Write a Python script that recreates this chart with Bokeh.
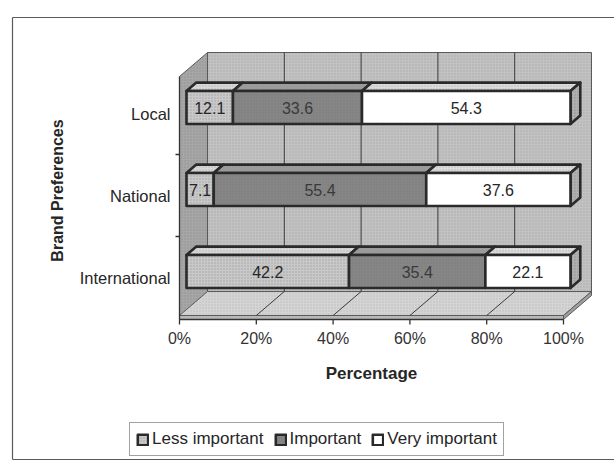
import numpy as np
from bokeh.plotting import figure
from bokeh.models import Range1d, Legend, LegendItem
from bokeh.embed import file_html
from bokeh.resources import INLINE
from bokeh.core.properties import value

# ---- data -------------------------------------------------------------
categories = ["Local", "National", "International"]
series_names = ["Less important", "Important", "Very important"]
less_important = [12.1, 7.1, 42.2]
important = [33.6, 55.4, 35.4]
very_important = [54.3, 37.6, 22.1]
x_ticks = [0, 20, 40, 60, 80, 100]
x_tick_labels = ["0%", "20%", "40%", "60%", "80%", "100%"]

# ---- canvas / projection settings --------------------------------------
W, H = 614, 461
PX_PER_PCT = 3.84                     # horizontal scale
PX_PER_ROW = 82                       # vertical scale
ORIGIN_X, ORIGIN_Y = 179, 277         # screen position of (0 %, row 0)


def dx_px(px):      # screen x -> data x
    return (px - ORIGIN_X) / PX_PER_PCT


def dy_px(py):      # screen y -> data y
    return (ORIGIN_Y - py) / PX_PER_ROW


DX = 28 / PX_PER_PCT                  # depth offset of the 3-D box (x)
DY = 24 / PX_PER_ROW                  # depth offset of the 3-D box (y)
Z0, Z1 = 0.25, 0.6                    # bar depth (front, back) as a fraction
HALF = 16.5 / PX_PER_ROW              # half bar thickness
FLOOR = dy_px(319)                    # floor front edge / category axis
FLOOR_TOP = dy_px(315)                # floor surface
TOP = dy_px(76)                       # top of walls (front)

FONT = "Liberation Sans"
INK = "#262626"
FILL = ["#c9c9c9", "#868686", "#ffffff"]
TOP_FILL = ["#d8d8d8", "#9c9c9c", "#dcdcdc"]
SIDE_FILL = "#b0b0b0"
DOTS = dict(hatch_pattern="dot", hatch_scale=3, hatch_alpha=0.45)

p = figure(
    width=W, height=H, output_backend="svg", toolbar_location=None,
    x_range=Range1d(dx_px(0), dx_px(W)), y_range=Range1d(dy_px(H), dy_px(0)),
    min_border=0,
)
p.axis.visible = False
p.grid.visible = False
p.background_fill_color = "white"
p.border_fill_color = "white"
p.outline_line_color = None

# outer frame (left, top, bottom edges; the right edge runs off the page)
fl, ft, fb, fr = dx_px(12), dy_px(17), dy_px(459), dx_px(W + 5)
p.segment(x0=[fl, fl, fl], y0=[ft, ft, fb], x1=[fl, fr, fr], y1=[fb, ft, fb],
          line_color="#5a5a5a", line_width=1.2)


def proj(x, y, z):
    return x + z * DX, y + z * DY


def poly(pts):
    return [q[0] for q in pts], [q[1] for q in pts]


# ---- walls and floor ---------------------------------------------------
wall_line = dict(line_color="#5a5a5a", line_width=1)
bx0, by0 = proj(0, FLOOR_TOP, 1)
bx1, by1 = proj(100, TOP, 1)
p.quad(left=bx0, right=bx1, bottom=by0, top=by1, fill_color="#c2c2c2",
       hatch_color="#8e8e8e", **DOTS, **wall_line)
xs, ys = poly([proj(0, FLOOR, 0), proj(0, TOP, 0), proj(0, TOP, 1), proj(0, FLOOR, 1)])
p.patch(xs, ys, fill_color="#a6a6a6", hatch_color="#777777", **DOTS, **wall_line)
xs, ys = poly([proj(0, FLOOR_TOP, 0), proj(100, FLOOR_TOP, 0),
               proj(100, FLOOR_TOP, 1), proj(0, FLOOR_TOP, 1)])
p.patch(xs, ys, fill_color="#d4d4d4", hatch_color="#a0a0a0", **DOTS, **wall_line)
p.quad(left=0, right=100, bottom=FLOOR, top=FLOOR_TOP, fill_color="#b8b8b8", **wall_line)
xs, ys = poly([proj(100, FLOOR, 0), proj(100, FLOOR_TOP, 0),
               proj(100, FLOOR_TOP, 1), proj(100, FLOOR, 1)])
p.patch(xs, ys, fill_color="#a0a0a0", **wall_line)

# gridlines: vertical on the back wall, diagonal across the floor
ticks = np.array(x_ticks, dtype=float)
inner = ticks[1:-1]
p.segment(x0=inner + DX, y0=FLOOR_TOP + DY, x1=inner + DX, y1=TOP + DY,
          line_color="#3a3a3a", line_width=1)
p.segment(x0=inner, y0=FLOOR_TOP, x1=inner + DX, y1=FLOOR_TOP + DY,
          line_color="#3a3a3a", line_width=1)

# axis lines and ticks
AX = dict(line_color="#333333", line_width=1.3)
p.segment(x0=[0], y0=[FLOOR], x1=[100], y1=[FLOOR], **AX)
p.segment(x0=ticks, y0=FLOOR, x1=ticks, y1=FLOOR - 5 / PX_PER_ROW, **AX)
p.segment(x0=[0], y0=[FLOOR], x1=[0], y1=[TOP], **AX)
rows = np.arange(len(categories))[::-1].astype(float)   # Local on top
bounds = (rows[:-1] + rows[1:]) / 2
p.segment(x0=0, y0=bounds, x1=-4 / PX_PER_PCT, y1=bounds, **AX)

# ---- stacked bars -------------------------------------------------------
vals = np.array([less_important, important, very_important], dtype=float)   # series x category
shares = vals / vals.sum(axis=0) * 100
right_edge = np.cumsum(shares, axis=0)
left_edge = right_edge - shares

bar_line = dict(line_color="#2a2a2a", line_width=2.6, line_join="round")
for s in range(len(series_names)):
    xs, ys = [], []
    for c in range(len(categories)):
        a, b, t = left_edge[s, c], right_edge[s, c], rows[c] + HALF
        px_, py_ = poly([proj(a, t, Z0), proj(b, t, Z0), proj(b, t, Z1), proj(a, t, Z1)])
        xs.append(px_)
        ys.append(py_)
    p.patches(xs, ys, fill_color=TOP_FILL[s], hatch_color="#8a8a8a", **DOTS, **bar_line)

xs, ys = [], []
for c in range(len(categories)):
    e = right_edge[-1, c]
    px_, py_ = poly([proj(e, rows[c] - HALF, Z0), proj(e, rows[c] + HALF, Z0),
                     proj(e, rows[c] + HALF, Z1), proj(e, rows[c] - HALF, Z1)])
    xs.append(px_)
    ys.append(py_)
p.patches(xs, ys, fill_color=SIDE_FILL, hatch_color="#707070", **DOTS, **bar_line)

front_renderers = []
for s in range(len(series_names)):
    extra = dict(hatch_color="#6a6a6a", **DOTS) if s < 2 else {}
    r = p.quad(left=left_edge[s] + Z0 * DX, right=right_edge[s] + Z0 * DX,
               bottom=rows - HALF + Z0 * DY, top=rows + HALF + Z0 * DY,
               fill_color=FILL[s], **extra, **bar_line)
    front_renderers.append(r)
    p.text(x=(left_edge[s] + right_edge[s]) / 2 + Z0 * DX, y=rows + Z0 * DY,
           text=[f"{v:.1f}" for v in vals[s]], text_align="center", text_baseline="middle",
           text_font=value(FONT), text_font_size="16px",
           text_color="#3a3a3a" if s == 1 else INK)

# ---- labels -------------------------------------------------------------
p.text(x=0, y=rows, text=categories, x_offset=-9, text_align="right", text_baseline="middle",
       text_font=value(FONT), text_font_size="16.5px", text_color=INK)
p.text(x=ticks, y=FLOOR, text=x_tick_labels, y_offset=10, text_align="center",
       text_baseline="top", text_font=value(FONT), text_font_size="16px", text_color="#333333")
p.text(x=[50], y=[FLOOR], text=["Percentage"], y_offset=54, text_align="center",
       text_baseline="middle", text_font=value(FONT), text_font_size="17px",
       text_font_style="bold", text_color=INK)
p.text(x=[dx_px(57)], y=[dy_px(190)], text=["Brand Preferences"], angle=np.pi / 2,
       text_align="center", text_baseline="middle", text_font=value(FONT),
       text_font_size="16px", text_font_style="bold", text_color=INK)

legend = Legend(
    items=[LegendItem(label=n, renderers=[r]) for n, r in zip(series_names, front_renderers)],
    orientation="horizontal", location=(129, 5),
    label_text_font=FONT, label_text_font_size="17px", label_text_color=INK,
    glyph_width=13, glyph_height=13, label_standoff=3, spacing=10,
    padding=6, margin=0, border_line_color="#444444", border_line_width=1,
    background_fill_alpha=1, label_height=19,
)
p.add_layout(legend, "center")

open("out.html", "w").write(file_html(p, INLINE))
